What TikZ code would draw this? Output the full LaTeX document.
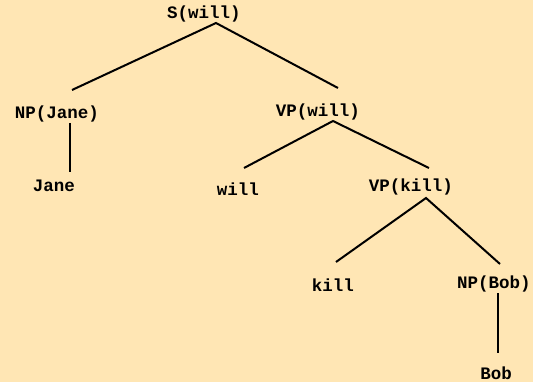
\documentclass[tikz,border=0pt]{standalone}
\usepackage{fontspec}
\setmonofont{Liberation Mono}
\definecolor{bg}{RGB}{255,230,180}
\begin{document}
\begin{tikzpicture}[x=1pt,y=-1pt,
  lbl/.style={font=\ttfamily\bfseries\fontsize{17.5}{20}\selectfont, inner sep=0pt, anchor=base},
  edge/.style={line width=2pt, black}]
\fill[bg] (0,0) rectangle (533,382);
\useasboundingbox (0,0) rectangle (533,382);
\node[lbl] (S) at (204,19) {S(will)};
\node[lbl] (NPJ) at (57,119) {NP(Jane)};
\node[lbl] (Jane) at (54,192) {Jane};
\node[lbl] (VPW) at (318,117) {VP(will)};
\node[lbl] (will) at (238,196) {will};
\node[lbl] (VPK) at (411,192) {VP(kill)};
\node[lbl] (kill) at (333,291) {kill};
\node[lbl] (NPB) at (494,288) {NP(Bob)};
\node[lbl] (Bob) at (496,379.5) {Bob};
\coordinate (s0) at (216,23);
\coordinate (s1) at (72,90);
\coordinate (s2) at (338,88);
\coordinate (j0) at (70,123);
\coordinate (j1) at (70,172);
\coordinate (w0) at (333,121);
\coordinate (w1) at (244,168);
\coordinate (w2) at (429,168);
\coordinate (k0) at (426,198);
\coordinate (k1) at (336,262);
\coordinate (k2) at (500,264);
\coordinate (b0) at (498,293);
\coordinate (b1) at (498,353);
\draw[edge] (s1) -- (s0) -- (s2);
\draw[edge] (j0) -- (j1);
\draw[edge] (w1) -- (w0) -- (w2);
\draw[edge] (k1) -- (k0) -- (k2);
\draw[edge] (b0) -- (b1);
\end{tikzpicture}
\end{document}
